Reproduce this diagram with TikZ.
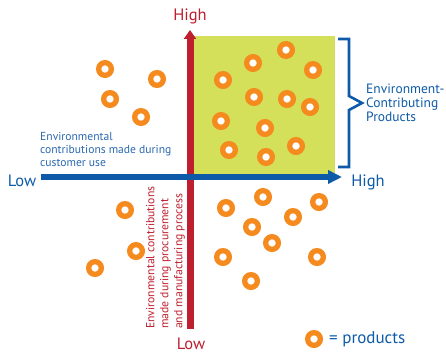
\documentclass[tikz,border=0pt]{standalone}
\usepackage{fontspec}
\setmainfont{PT Sans}
\usetikzlibrary{arrows.meta}
\definecolor{axred}{HTML}{BE1E2D}
\definecolor{axblue}{HTML}{0D5BA8}
\definecolor{txblue}{HTML}{2A68B0}
\definecolor{boxgreen}{HTML}{D4E05A}
\definecolor{ringorange}{HTML}{F58A1F}

\begin{document}
\begin{tikzpicture}[x=1pt,y=-1pt,
	product/.style={circle,draw=ringorange,line width=5.3pt,fill=white,minimum size=12.7pt,inner sep=0pt},
	redlabel/.style={text=axred,font=\fontsize{16.5}{16}\selectfont},
	bluelabel/.style={text=axblue,font=\fontsize{16.5}{16}\selectfont}]
				\useasboundingbox (0,0) rectangle (446,353);
				\fill[boxgreen] (194,36) rectangle (335,177);
				
				\coordinate (ybot) at (190,329);
				\coordinate (ytop) at (190,30);
				\coordinate (xleft) at (41,177);
				\coordinate (xright) at (342,177);
				\draw[axred,line width=7pt,-{Triangle[width=12pt,length=9pt]}] (ybot) -- (ytop);
				\draw[axblue,line width=6pt,-{Triangle[width=13pt,length=14pt]}] (xleft) -- (xright);
				
				\node[redlabel]  (yhigh) at (190,16) {High};
				\node[redlabel]  (ylow)  at (191,344) {Low};
				\node[bluelabel] (xlow)  at (22,181) {Low};
				\node[bluelabel] (xhigh) at (368,182) {High};
				
				\node[anchor=north west,align=left,text=txblue,inner sep=0pt,
				      font=\fontsize{11.6}{13}\selectfont] (usetext) at (40,132)
				      {Environmental\\contributions made during\\customer use};
				\node[anchor=south west,align=left,text=axred,inner sep=0pt,rotate=90,
				      font=\fontsize{11.7}{14}\selectfont] (proctext) at (185,329)
				      {Environmental contributions\\made during procurement\\and manufacturing process};
				
				\draw[axblue,line width=2.6pt,line join=miter] (338,39) -- (349,39) -- (349,96)
				      -- (362,103) -- (349,110) -- (349,167) -- (338,167);
				\coordinate (brace) at (362,103);
				\node[anchor=west,align=left,text=axblue,inner sep=0pt,
				      font=\fontsize{13.5}{14}\selectfont] (ectext) at ([xshift=4pt]brace)
				      {Environment-\\Contributing\\Products};
				
				% products
				\foreach \x/\y [count=\i] in {105/69,157/79,110/99,141/117,
				                              223/80,253/63,286/50,313/70,254/97,287/99,310/107,
				                              221/121,265/128,229/150,266/157,296/146,
				                              125/210,136/251,95/268,226/208,263/197,319/202,
				                              293/217,252/227,272/243,223/257,317/257,251/281}
				\node[product] (p\i) at (\x,\y) {};
				
				\node[product] (key) at (314,339) {};
				\node[anchor=west,text=axblue,inner sep=0pt,font=\fontsize{17}{17}\selectfont]
				      (keytext) at (329,339) {= products};
			\end{tikzpicture}
\end{document}
